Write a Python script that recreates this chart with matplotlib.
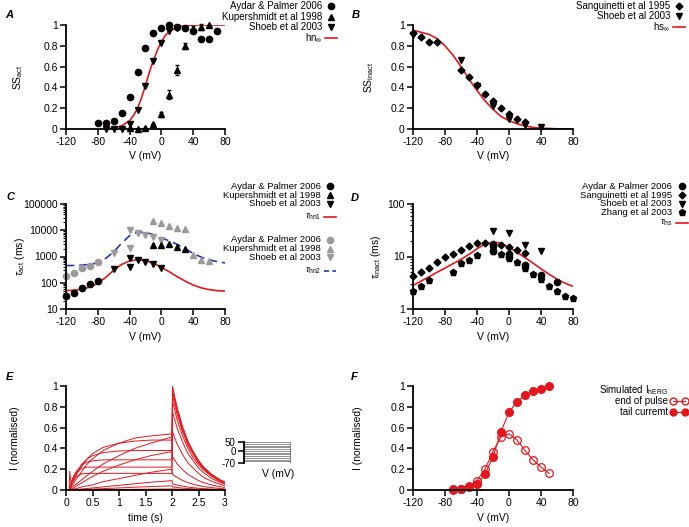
import matplotlib
matplotlib.use('Agg')
import matplotlib.pyplot as plt
from matplotlib.lines import Line2D
from matplotlib.ticker import FormatStrFormatter, FuncFormatter, NullFormatter

plt.rcParams['font.family'] = ['Liberation Sans', 'DejaVu Sans']
plt.rcParams['font.size'] = 7.5
plt.rcParams['axes.unicode_minus'] = False
plt.rcParams['mathtext.fontset'] = 'custom'
plt.rcParams['mathtext.rm'] = 'Liberation Sans'
plt.rcParams['mathtext.it'] = 'Liberation Sans:italic'
plt.rcParams['mathtext.bf'] = 'Liberation Sans:bold'

RED = '#e3171d'
GREY = '#9a9a9a'
BLUE = '#2436b0'

# ---- A: steady state activation
a_aydar_v = [-80, -70, -60, -50, -40, -30, -20, -10, 0, 10, 20, 30, 40, 50, 60, 70]
a_aydar = [0.06, 0.06, 0.08, 0.15, 0.31, 0.55, 0.78, 0.92, 0.97, 1.0, 0.98, 0.97, 0.94, 0.87, 0.87, 0.94]
a_kup_v = [-40, -30, -20, -10, 0, 10, 20, 30, 40, 50, 60]
a_kup = [0.01, 0.0, 0.01, 0.05, 0.14, 0.33, 0.57, 0.80, 0.96, 0.98, 1.0]
a_kup_err = [0, 0, 0, 0, 0.02, 0.045, 0.05, 0.03, 0.03, 0.03, 0.0]
a_shoeb_v = [-70, -60, -50, -40, -30, -20, -10, 0, 10, 20]
a_shoeb = [0.0, 0.0, 0.0, 0.05, 0.18, 0.41, 0.65, 0.83, 0.94, 0.97]
a_fit_v = [-70, -60, -50, -40, -35, -30, -25, -20, -15, -10, -5, 0, 5, 10, 20, 30, 40, 60, 80]
a_fit = [0.0, 0.01, 0.03, 0.08, 0.13, 0.20, 0.30, 0.42, 0.55, 0.66, 0.76, 0.84, 0.90, 0.94, 0.98, 0.995, 1.0, 1.0, 1.0]

# ---- B: steady state inactivation
b_sang_v = [-120, -110, -100, -90, -60, -50, -40, -30, -20, -10, 0, 10, 20]
b_sang = [0.92, 0.88, 0.84, 0.84, 0.57, 0.50, 0.42, 0.34, 0.27, 0.20, 0.14, 0.10, 0.07]
b_shoeb_v = [-120, -60, -40, -20, 0, 20, 40]
b_shoeb = [0.90, 0.66, 0.41, 0.22, 0.10, 0.04, 0.02]
b_fit_v = [-120, -110, -100, -90, -80, -70, -60, -50, -40, -30, -20, -10, 0, 10, 20, 30, 40, 60, 80]
b_fit = [0.95, 0.93, 0.91, 0.87, 0.80, 0.71, 0.60, 0.48, 0.37, 0.27, 0.19, 0.12, 0.08, 0.05, 0.03, 0.015, 0.008, 0.002, 0.0]

# ---- C: activation time constants
c_aydar_v = [-120, -110, -100, -90, -80]
c_aydar1 = [32, 40, 63, 88, 115]
c_aydar2 = [185, 240, 360, 430, 600]
c_kup_v = [-10, 0, 10, 20, 30]
c_kup1 = [2630, 2630, 2900, 2400, 1960]
c_kup2_v = [-10, 0, 10, 20, 30, 40, 50, 60]
c_kup2 = [23000, 18800, 14800, 12100, 11000, 1120, 750, 680]
c_shoeb_v = [-60, -40, -40, -30, -20, -10, 0]
c_shoeb1 = [330, 870, 415, 745, 610, 510, 370]
c_shoeb2 = [1350, 10500, 2050, 7800, 6800, 5400, 4350]
c_fit_v = [-120, -110, -100, -90, -80, -70, -60, -50, -40, -30, -20, -10, 0, 10, 20, 30, 40, 50, 60, 70, 80]
c_hn1 = [50, 52, 57, 68, 95, 160, 300, 500, 680, 760, 700, 550, 390, 260, 170, 115, 82, 64, 55, 50, 48]
c_hn2 = [450, 455, 470, 500, 580, 850, 1500, 3200, 6200, 8500, 8200, 6800, 5200, 3900, 2900, 2000, 1300, 950, 750, 640, 570]

# ---- D: inactivation time constants
d_aydar_v = [-20, -20, 0, 0, 20, 40, 60]
d_aydar = [16, 13, 11, 10, 7, 4.5, 3.2]
d_sang_v = [-120, -110, -100, -90, -80, -70, -60, -50, -40, -30, -20, -10, 0, 10, 20]
d_sang = [4.2, 5.1, 6.1, 7.7, 9.6, 11.2, 13.1, 16.1, 17.8, 18.1, 17.5, 16.5, 15.5, 13.5, 11.6]
d_shoeb_v = [-20, 0, 20, 40]
d_shoeb = [30.5, 27.5, 16.8, 12.5]
d_zhang_v = [-120, -110, -100, -70, -60, -50, -40, -20, -10, 0, 0, 10, 20, 20, 30, 40, 50, 60, 70, 80]
d_zhang = [2.2, 2.7, 3.5, 5.1, 7.4, 8.6, 10.5, 12.5, 11.2, 10.7, 9.3, 8.0, 6.9, 6.0, 4.7, 3.8, 2.7, 2.2, 1.8, 1.6]
d_fit_v = [-120, -110, -100, -90, -80, -70, -60, -50, -40, -30, -20, -10, 0, 10, 20, 30, 40, 50, 60, 70, 80]
d_fit = [2.8, 3.4, 4.1, 5.0, 6.0, 7.3, 8.8, 11.0, 14.0, 17.5, 19.0, 18.0, 15.0, 12.0, 9.5, 7.5, 5.8, 4.6, 3.7, 3.1, 2.7]

# ---- E: simulated current traces, one per step voltage
e_steps = [50, 40, 30, 20, 10, 0, -10, -20, -30, -40, -50, -60, -70]
e_t_pulse = [0, 0.06, 0.07, 0.1, 0.15, 0.2, 0.3, 0.4, 0.5, 0.7, 1.0, 1.3, 1.6, 2.0]
e_t_tail = [2.01, 2.05, 2.1, 2.2, 2.3, 2.4, 2.5, 2.6, 2.75, 2.9, 3.0]
e_pulse = [
    [0, 0, 0.18, 0.05, 0.10, 0.13, 0.155, 0.16, 0.16, 0.16, 0.16, 0.16, 0.16, 0.16],
    [0, 0, 0.02, 0.08, 0.14, 0.18, 0.21, 0.22, 0.22, 0.22, 0.22, 0.22, 0.22, 0.22],
    [0, 0, 0.01, 0.07, 0.13, 0.18, 0.24, 0.27, 0.28, 0.29, 0.29, 0.29, 0.29, 0.29],
    [0, 0, 0.01, 0.06, 0.12, 0.17, 0.25, 0.30, 0.33, 0.36, 0.375, 0.38, 0.38, 0.38],
    [0, 0, 0.005, 0.05, 0.10, 0.15, 0.23, 0.30, 0.35, 0.41, 0.45, 0.47, 0.48, 0.48],
    [0, 0, 0.003, 0.03, 0.07, 0.11, 0.18, 0.25, 0.30, 0.38, 0.45, 0.50, 0.52, 0.54],
    [0, 0, 0.002, 0.02, 0.04, 0.06, 0.10, 0.14, 0.18, 0.25, 0.33, 0.40, 0.45, 0.51],
    [0, 0, 0.001, 0.01, 0.02, 0.04, 0.07, 0.10, 0.13, 0.18, 0.24, 0.29, 0.33, 0.37],
    [0, 0, 0, 0.005, 0.01, 0.015, 0.03, 0.04, 0.05, 0.08, 0.11, 0.14, 0.17, 0.20],
    [0, 0, 0, 0.002, 0.004, 0.006, 0.01, 0.015, 0.02, 0.03, 0.045, 0.06, 0.075, 0.09],
    [0, 0, 0, 0.001, 0.002, 0.003, 0.005, 0.007, 0.009, 0.013, 0.02, 0.027, 0.033, 0.04],
    [0, 0, 0, 0, 0.001, 0.001, 0.001, 0.002, 0.002, 0.003, 0.005, 0.007, 0.008, 0.01],
    [0, 0, 0, 0, 0, 0, 0, 0, 0, 0, 0, 0, 0, 0],
]
e_tail = [
    [1.0, 0.90, 0.79, 0.61, 0.47, 0.37, 0.285, 0.22, 0.15, 0.10, 0.075],
    [0.97, 0.87, 0.77, 0.59, 0.46, 0.36, 0.28, 0.21, 0.145, 0.097, 0.073],
    [0.95, 0.86, 0.75, 0.58, 0.45, 0.35, 0.27, 0.21, 0.14, 0.095, 0.071],
    [0.91, 0.82, 0.72, 0.56, 0.43, 0.34, 0.26, 0.20, 0.14, 0.091, 0.068],
    [0.85, 0.77, 0.67, 0.52, 0.40, 0.31, 0.24, 0.19, 0.13, 0.085, 0.064],
    [0.75, 0.68, 0.59, 0.46, 0.35, 0.28, 0.21, 0.165, 0.11, 0.075, 0.056],
    [0.56, 0.50, 0.44, 0.34, 0.26, 0.21, 0.16, 0.12, 0.084, 0.056, 0.042],
    [0.32, 0.29, 0.25, 0.195, 0.15, 0.12, 0.091, 0.07, 0.048, 0.032, 0.024],
    [0.15, 0.135, 0.12, 0.092, 0.07, 0.056, 0.043, 0.033, 0.023, 0.015, 0.011],
    [0.06, 0.054, 0.047, 0.037, 0.028, 0.022, 0.017, 0.013, 0.009, 0.006, 0.0045],
    [0.03, 0.027, 0.024, 0.018, 0.014, 0.011, 0.009, 0.007, 0.005, 0.003, 0.002],
    [0.01, 0.009, 0.008, 0.006, 0.005, 0.004, 0.003, 0.002, 0.0015, 0.001, 0.001],
    [0.005, 0.0045, 0.004, 0.003, 0.002, 0.002, 0.0015, 0.001, 0.001, 0.0005, 0.0004],
]
prot_t = [0, 2, 2, 3]
prot_hold = -70

# ---- F: simulated IV
f_v = [-70, -60, -50, -40, -30, -20, -10, 0, 10, 20, 30, 40, 50]
f_end = [0.0, 0.01, 0.04, 0.09, 0.20, 0.37, 0.51, 0.54, 0.48, 0.38, 0.29, 0.22, 0.16]
f_tail = [0.005, 0.01, 0.03, 0.06, 0.15, 0.32, 0.56, 0.75, 0.85, 0.91, 0.95, 0.97, 1.0]

W, H = 689, 527
fig = plt.figure(figsize=(W / 100, H / 100), dpi=100)


def add_ax(x0, x1, top, bottom):
    ax = fig.add_axes([x0 / W, 1 - bottom / H, (x1 - x0) / W, (bottom - top) / H])
    ax.spines['top'].set_visible(False)
    ax.spines['right'].set_visible(False)
    ax.spines['left'].set_linewidth(1.3)
    ax.spines['bottom'].set_linewidth(1.3)
    ax.tick_params(direction='out', length=4, width=1.1, pad=2, labelsize=7.5)
    ax.tick_params(which='minor', direction='out', length=2, width=0.8)
    return ax


def legend(entries, xt, xm, ys, fs=7):
    for (label, kw), y in zip(entries, ys):
        fig.text(xt / W, 1 - y / H, label, ha='right', va='center', fontsize=fs)
        if kw is None:
            continue
        if kw.get('linestyle', 'none') != 'none':
            xs = [(xm - 6) / W, (xm + 6) / W]
        else:
            xs = [xm / W]
        fig.add_artist(Line2D(xs, [1 - y / H] * len(xs), transform=fig.transFigure, **kw))


def panel_letter(x, y, s):
    fig.text(x / W, 1 - y / H, s, fontsize=8, weight='bold', style='italic', va='center')


mk = dict(linestyle='none', clip_on=False)

# A
ax = add_ax(66, 225, 25, 129)
ax.plot(a_fit_v, a_fit, color=RED, lw=1.2)
ax.plot(a_aydar_v, a_aydar, 'o', color='k', ms=4.5, **mk)
ax.errorbar(a_kup_v, a_kup, yerr=a_kup_err, fmt='^', color='k', ms=4.5, elinewidth=0.8, capsize=1.5, clip_on=False)
ax.plot(a_shoeb_v, a_shoeb, 'v', color='k', ms=4.5, **mk)
ax.set_xlim(-120, 80)
ax.set_ylim(0, 1)
ax.set_xticks([-120, -80, -40, 0, 40, 80])
ax.set_yticks([0, 0.2, 0.4, 0.6, 0.8, 1])
ax.yaxis.set_major_formatter(FormatStrFormatter('%g'))
ax.set_xlabel('V (mV)')
ax.set_ylabel(r'SS$_{\mathrm{act}}$')
ax.xaxis.set_label_coords(0.5, -0.21)
ax.yaxis.set_label_coords(-0.26, 0.5)
panel_letter(5, 15, 'A')
legend([('Aydar & Palmer 2006', dict(marker='o', color='k', ms=4.5, linestyle='none')),
        ('Kupershmidt et al 1998', dict(marker='^', color='k', ms=4.5, linestyle='none')),
        ('Shoeb et al 2003', dict(marker='v', color='k', ms=4.5, linestyle='none')),
        (r'hn$_{\infty}$', dict(color=RED, lw=1.2, linestyle='-'))],
       322, 331, [6, 17, 27, 38])

# B
ax = add_ax(413, 573, 25, 129)
ax.plot(b_fit_v, b_fit, color=RED, lw=1.2)
ax.errorbar(b_sang_v, b_sang, yerr=0.015, fmt='D', color='k', ms=3.5, elinewidth=0.7, capsize=1, clip_on=False)
ax.plot(b_shoeb_v, b_shoeb, 'v', color='k', ms=4.5, **mk)
ax.set_xlim(-120, 80)
ax.set_ylim(0, 1)
ax.set_xticks([-120, -80, -40, 0, 40, 80])
ax.set_yticks([0, 0.2, 0.4, 0.6, 0.8, 1])
ax.yaxis.set_major_formatter(FormatStrFormatter('%g'))
ax.set_xlabel('V (mV)')
ax.set_ylabel(r'SS$_{\mathrm{inact}}$')
ax.xaxis.set_label_coords(0.5, -0.21)
ax.yaxis.set_label_coords(-0.23, 0.5)
panel_letter(352, 15, 'B')
legend([('Sanguinetti et al 1995', dict(marker='D', color='k', ms=3.5, linestyle='none')),
        ('Shoeb et al 2003', dict(marker='v', color='k', ms=4.5, linestyle='none')),
        (r'hs$_{\infty}$', dict(color=RED, lw=1.2, linestyle='-'))],
       670, 679, [6, 16, 27])

# C
ax = add_ax(66, 225, 204, 309)
ax.set_yscale('log')
ax.plot(c_fit_v, c_hn2, color=BLUE, lw=1.2, dashes=(5, 3))
ax.plot(c_fit_v, c_hn1, color=RED, lw=1.2)
ax.plot(c_aydar_v, c_aydar2, 'o', color=GREY, ms=4.5, **mk)
ax.plot(c_kup2_v, c_kup2, '^', color=GREY, ms=4.5, **mk)
ax.plot(c_shoeb_v, c_shoeb2, 'v', color=GREY, ms=4.5, **mk)
ax.errorbar(c_aydar_v, c_aydar1, yerr=[[6, 6, 8, 10, 15], [8, 8, 10, 14, 20]], fmt='o', color='k', ms=4.5,
            elinewidth=0.7, capsize=1, clip_on=False)
ax.plot(c_kup_v, c_kup1, '^', color='k', ms=4.5, **mk)
ax.plot(c_shoeb_v, c_shoeb1, 'v', color='k', ms=4.5, **mk)
ax.set_xlim(-120, 80)
ax.set_ylim(10, 100000)
ax.set_xticks([-120, -80, -40, 0, 40, 80])
ax.yaxis.set_major_formatter(FuncFormatter(lambda v, p: '%d' % v))
ax.yaxis.set_minor_formatter(NullFormatter())
ax.set_xlabel('V (mV)')
ax.set_ylabel(r'$\tau_{\mathrm{act}}$ (ms)')
ax.xaxis.set_label_coords(0.5, -0.22)
ax.yaxis.set_label_coords(-0.245, 0.5)
panel_letter(6, 197, 'C')
legend([('Aydar & Palmer 2006', dict(marker='o', color='k', ms=4.5, linestyle='none')),
        ('Kupershmidt et al 1998', dict(marker='^', color='k', ms=4.5, linestyle='none')),
        ('Shoeb et al 2003', dict(marker='v', color='k', ms=4.5, linestyle='none')),
        (r'$\tau_{\mathrm{hn1}}$', dict(color=RED, lw=1.2, linestyle='-')),
        ('Aydar & Palmer 2006', dict(marker='o', color=GREY, ms=4.5, linestyle='none')),
        ('Kupershmidt et al 1998', dict(marker='^', color=GREY, ms=4.5, linestyle='none')),
        ('Shoeb et al 2003', dict(marker='v', color=GREY, ms=4.5, linestyle='none')),
        (r'$\tau_{\mathrm{hn2}}$', dict(color=BLUE, lw=1.2, linestyle='--', dashes=(3, 2)))],
       321, 330, [186, 195, 203.5, 217, 240, 249, 257.5, 271], fs=6.8)

# D
ax = add_ax(413, 573, 204, 309)
ax.set_yscale('log')
ax.plot(d_fit_v, d_fit, color=RED, lw=1.2)
ax.plot(d_aydar_v, d_aydar, 'o', color='k', ms=4.5, **mk)
ax.plot(d_sang_v, d_sang, 'D', color='k', ms=3.5, **mk)
ax.plot(d_shoeb_v, d_shoeb, 'v', color='k', ms=4.5, **mk)
ax.plot(d_zhang_v, d_zhang, 'p', color='k', ms=5, **mk)
ax.set_xlim(-120, 80)
ax.set_ylim(1, 100)
ax.set_xticks([-120, -80, -40, 0, 40, 80])
ax.yaxis.set_major_formatter(FuncFormatter(lambda v, p: '%d' % v))
ax.yaxis.set_minor_formatter(NullFormatter())
ax.set_xlabel('V (mV)')
ax.set_ylabel(r'$\tau_{\mathrm{inact}}$ (ms)')
ax.xaxis.set_label_coords(0.5, -0.22)
ax.yaxis.set_label_coords(-0.19, 0.5)
panel_letter(351, 198, 'D')
legend([('Aydar & Palmer 2006', dict(marker='o', color='k', ms=4.5, linestyle='none')),
        ('Sanguinetti et al 1995', dict(marker='D', color='k', ms=3.5, linestyle='none')),
        ('Shoeb et al 2003', dict(marker='v', color='k', ms=4.5, linestyle='none')),
        ('Zhang et al 2003', dict(marker='p', color='k', ms=5, linestyle='none')),
        (r'$\tau_{\mathrm{hs}}$', dict(color=RED, lw=1.2, linestyle='-'))],
       672, 682, [186, 195, 203.5, 212, 223], fs=6.8)

# E
ax = add_ax(66, 225, 386, 490)
for p, t in zip(e_pulse, e_tail):
    ax.plot(e_t_pulse + e_t_tail, p + t, color=RED, lw=0.7)
ax.set_xlim(0, 3)
ax.set_ylim(0, 1)
ax.set_xticks([0, 0.5, 1, 1.5, 2, 2.5, 3])
ax.set_yticks([0, 0.2, 0.4, 0.6, 0.8, 1])
ax.xaxis.set_major_formatter(FormatStrFormatter('%g'))
ax.yaxis.set_major_formatter(FormatStrFormatter('%g'))
ax.set_xlabel('time (s)')
ax.set_ylabel('I (normalised)')
ax.xaxis.set_label_coords(0.5, -0.22)
ax.yaxis.set_label_coords(-0.29, 0.5)
panel_letter(6, 377, 'E')

# E inset: voltage protocol
axi = fig.add_axes([244 / W, 1 - 463 / H, 69 / W, 21 / H])
for v in e_steps:
    axi.plot(prot_t, [v, v, prot_hold, prot_hold], color='#808080', lw=0.6)
axi.set_xlim(0, 3)
axi.set_ylim(-70, 50)
for s in ['top', 'right', 'bottom']:
    axi.spines[s].set_visible(False)
axi.spines['left'].set_linewidth(1.3)
axi.set_xticks([])
axi.set_yticks([-70, 0, 50])
axi.tick_params(direction='out', length=4, width=1.1, pad=2, labelsize=7)
axi.set_xlabel('V (mV)', labelpad=4)

# F
ax = add_ax(413, 573, 386, 490)
ax.plot(f_v, f_end, 'o-', color=RED, mfc='none', ms=5.5, lw=0.8, mew=0.9, clip_on=False)
ax.plot(f_v, f_tail, 'o-', color=RED, ms=5.5, lw=0.8, clip_on=False)
ax.set_xlim(-120, 80)
ax.set_ylim(0, 1)
ax.set_xticks([-120, -80, -40, 0, 40, 80])
ax.set_yticks([0, 0.2, 0.4, 0.6, 0.8, 1])
ax.yaxis.set_major_formatter(FormatStrFormatter('%g'))
ax.set_xlabel('V (mV)')
ax.set_ylabel('I (normalised)')
ax.xaxis.set_label_coords(0.5, -0.22)
ax.yaxis.set_label_coords(-0.31, 0.5)
panel_letter(351, 377, 'F')
legend([(r'Simulated I$_{\mathrm{hERG}}$', None),
        ('end of pulse', dict(marker='o', color=RED, mfc='none', ms=5, lw=0.8, linestyle='-')),
        ('tail curremt', dict(marker='o', color=RED, ms=5, lw=0.8, linestyle='-'))],
       668, 679, [390, 401, 412])

fig.savefig('out.png', dpi=100)
